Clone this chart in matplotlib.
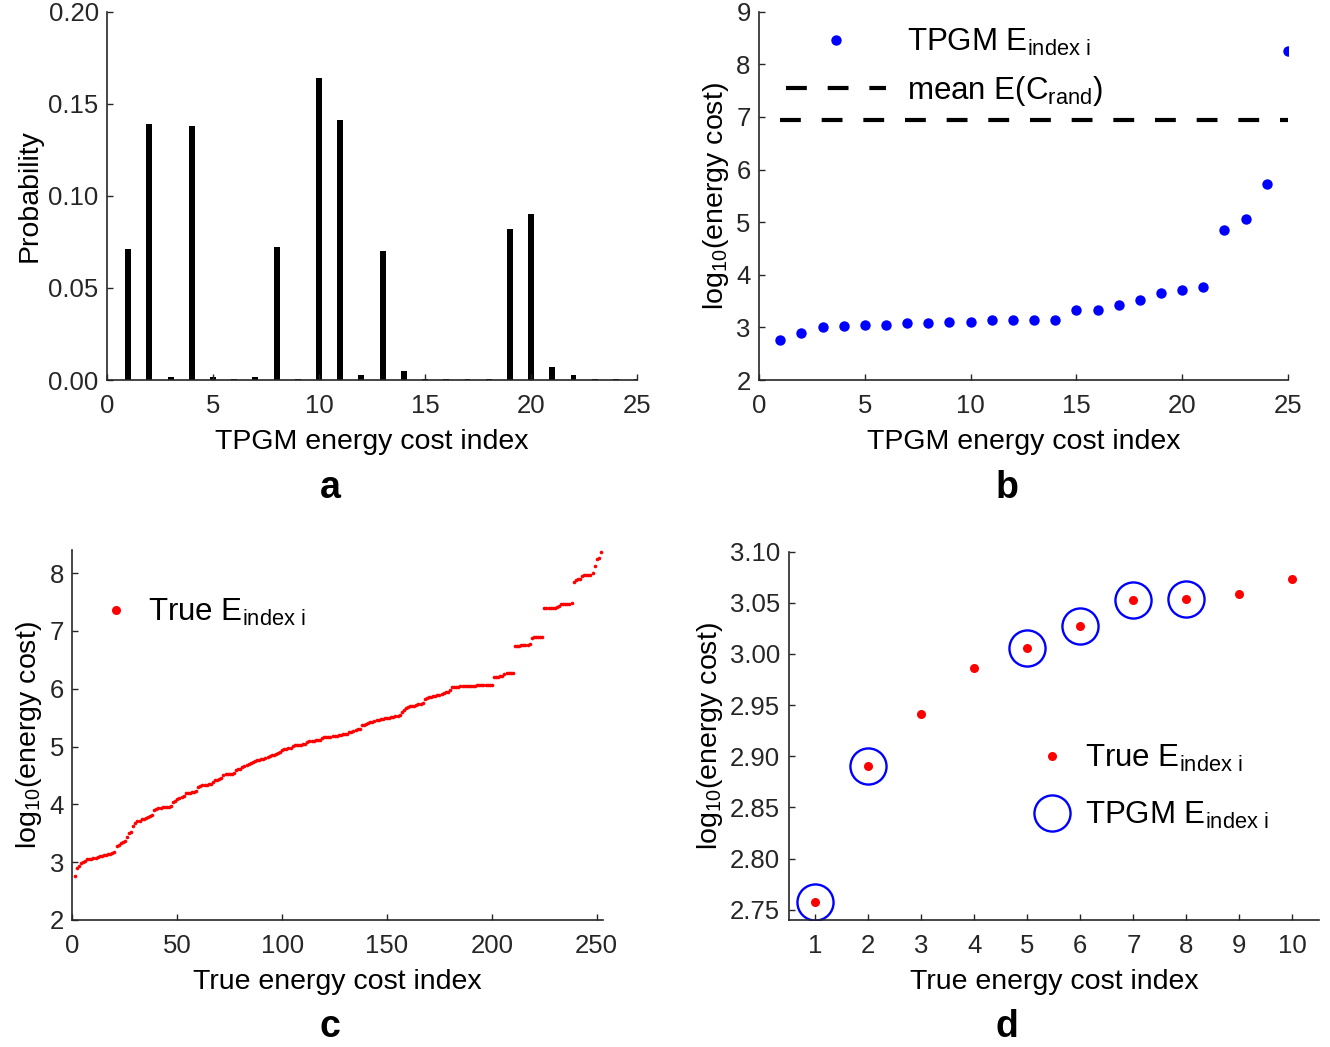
import numpy as np
import matplotlib.pyplot as plt
from matplotlib.lines import Line2D

plt.rcParams['font.family'] = ['Liberation Sans', 'DejaVu Sans']
plt.rcParams['mathtext.fontset'] = 'custom'
plt.rcParams['mathtext.rm'] = 'Liberation Sans'
plt.rcParams['mathtext.it'] = 'Liberation Sans:italic'

# panel a: probability of each TPGM energy cost index
tpgm_idx = np.arange(1, 26)
prob = [0.071, 0.139, 0.0018, 0.138, 0.0018, 0.0007, 0.0018, 0.072, 0.0007, 0.164,
        0.141, 0.0027, 0.070, 0.0049, 0.0005, 0.0007, 0.0007, 0.0007, 0.082, 0.090,
        0.0069, 0.0027, 0.0007, 0.0007, 0.0004]

# panel b: TPGM log10 energy cost
tpgm_cost = [2.758, 2.891, 3.006, 3.027, 3.053, 3.054, 3.08, 3.09, 3.10, 3.11,
             3.14, 3.15, 3.15, 3.15, 3.33, 3.34, 3.42, 3.53, 3.65, 3.72,
             3.77, 4.86, 5.06, 5.73, 8.26]
mean_rand = 6.94

# panel c: true log10 energy cost, sorted
true_cost = [
    2.758, 2.891, 2.941, 2.986, 3.006, 3.027, 3.053, 3.054, 3.059, 3.073,
    3.08, 3.09, 3.10, 3.11, 3.12, 3.13, 3.14, 3.15, 3.16, 3.17,
    3.28, 3.29, 3.34, 3.35, 3.36, 3.43, 3.51, 3.53, 3.62, 3.67,
    3.71, 3.72, 3.74, 3.75, 3.76, 3.79, 3.80, 3.81, 3.90, 3.92,
    3.94, 3.94, 3.95, 3.95, 3.95, 3.96, 3.98, 4.04, 4.06, 4.10,
    4.11, 4.12, 4.15, 4.19, 4.20, 4.20, 4.21, 4.22, 4.23, 4.30,
    4.32, 4.33, 4.33, 4.34, 4.35, 4.36, 4.38, 4.42, 4.43, 4.44,
    4.45, 4.51, 4.52, 4.52, 4.52, 4.53, 4.55, 4.59, 4.61, 4.62,
    4.64, 4.66, 4.68, 4.70, 4.72, 4.73, 4.75, 4.76, 4.77, 4.78,
    4.79, 4.80, 4.82, 4.84, 4.85, 4.86, 4.87, 4.88, 4.90, 4.94,
    4.95, 4.96, 4.97, 4.98, 5.01, 5.02, 5.02, 5.03, 5.03, 5.04,
    5.05, 5.08, 5.09, 5.09, 5.10, 5.11, 5.11, 5.12, 5.14, 5.16,
    5.16, 5.17, 5.17, 5.18, 5.19, 5.19, 5.20, 5.20, 5.21, 5.21,
    5.22, 5.25, 5.26, 5.27, 5.28, 5.30, 5.31, 5.37, 5.38, 5.39,
    5.40, 5.42, 5.43, 5.45, 5.46, 5.46, 5.47, 5.48, 5.49, 5.49,
    5.50, 5.51, 5.51, 5.52, 5.53, 5.54, 5.60, 5.64, 5.67, 5.69,
    5.70, 5.71, 5.71, 5.72, 5.73, 5.74, 5.76, 5.83, 5.84, 5.85,
    5.86, 5.87, 5.88, 5.89, 5.90, 5.91, 5.93, 5.94, 5.95, 5.97,
    6.03, 6.03, 6.03, 6.03, 6.04, 6.04, 6.04, 6.04, 6.05, 6.05,
    6.05, 6.05, 6.06, 6.06, 6.06, 6.06, 6.07, 6.07, 6.07, 6.07,
    6.21, 6.21, 6.21, 6.22, 6.22, 6.26, 6.27, 6.27, 6.27, 6.27,
    6.74, 6.74, 6.74, 6.75, 6.75, 6.75, 6.76, 6.78, 6.88, 6.89,
    6.89, 6.89, 6.89, 6.90, 7.39, 7.39, 7.39, 7.40, 7.40, 7.40,
    7.41, 7.43, 7.46, 7.47, 7.47, 7.47, 7.47, 7.48, 7.84, 7.88,
    7.89, 7.89, 7.95, 7.96, 7.96, 7.96, 7.96, 8.00, 8.13, 8.24,
    8.26, 8.36]

# panel d: first ten true costs and which of them TPGM found
d_idx = np.arange(1, 11)
d_found = [1, 2, 5, 6, 7, 8]

axis_col = '#262626'
tick_fs = 18.5
label_fs = 20.5
leg_fs = 22.5


def style(ax):
    for s in ['top', 'right']:
        ax.spines[s].set_visible(False)
    for s in ['left', 'bottom']:
        ax.spines[s].set_color(axis_col)
        ax.spines[s].set_linewidth(1.2)
    ax.tick_params(direction='in', length=4.5, width=1.0, colors=axis_col,
                   labelsize=tick_fs, labelcolor=axis_col, pad=6)
    ax.tick_params(axis='x', pad=10)
    ax.xaxis.labelpad = 8


fig = plt.figure(figsize=(13.3, 10.47), dpi=100)
ax_a = fig.add_axes([0.0805, 0.637, 0.3985, 0.3518])
ax_b = fig.add_axes([0.5707, 0.637, 0.3977, 0.3518])
ax_c = fig.add_axes([0.0545, 0.1213, 0.3989, 0.3534])
ax_d = fig.add_axes([0.593, 0.1213, 0.3987, 0.3518])

# a
ax_a.bar(tpgm_idx, prob, width=0.28, color='black')
ax_a.set_xlim(0, 25)
ax_a.set_ylim(0, 0.2)
ax_a.set_xticks(np.arange(0, 26, 5))
ax_a.set_yticks(np.arange(0, 0.21, 0.05))
ax_a.set_yticklabels(['%.2f' % v for v in np.arange(0, 0.21, 0.05)])
ax_a.set_xlabel('TPGM energy cost index', fontsize=label_fs)
ax_a.set_ylabel('Probability', fontsize=label_fs)
style(ax_a)

# b
ax_b.plot(tpgm_idx, tpgm_cost, 'o', color='blue', ms=7.5, mec='none',
          label=r'TPGM E$_{\mathrm{index\ i}}$')
ax_b.plot([1, 25], [mean_rand, mean_rand], color='black', lw=3,
          dashes=(5, 5), label=r'mean E(C$_{\mathrm{rand}}$)')
ax_b.set_xlim(0, 25)
ax_b.set_ylim(2, 9)
ax_b.set_xticks(np.arange(0, 26, 5))
ax_b.set_yticks(np.arange(2, 10))
ax_b.set_xlabel('TPGM energy cost index', fontsize=label_fs)
ax_b.set_ylabel(r'log$_{10}$(energy cost)', fontsize=label_fs)
ax_b.legend(loc='upper left', bbox_to_anchor=(0.021, 1.0), frameon=False,
            fontsize=leg_fs, handlelength=3.2, handletextpad=0.67,
            labelspacing=0.5, borderpad=0)
style(ax_b)

# c
ax_c.plot(np.arange(1, len(true_cost) + 1), true_cost, 'o', color='red',
          ms=2.6, mec='none', label=r'True E$_{\mathrm{index\ i}}$')
ax_c.set_xlim(0, 253)
ax_c.set_ylim(2, 8.4)
ax_c.set_xticks(np.arange(0, 251, 50))
ax_c.set_yticks(np.arange(2, 9))
ax_c.set_xlabel('True energy cost index', fontsize=label_fs)
ax_c.set_ylabel(r'log$_{10}$(energy cost)', fontsize=label_fs)
h_c = Line2D([], [], ls='none', marker='o', color='red', ms=6.5, mec='none')
ax_c.legend([h_c], [r'True E$_{\mathrm{index\ i}}$'], loc='upper left',
            bbox_to_anchor=(0.038, 0.873), frameon=False, fontsize=leg_fs,
            handlelength=1.5, handletextpad=0.28, borderpad=0, borderaxespad=0)
style(ax_c)

# d
d_vals = true_cost[:10]
ax_d.plot(d_idx, d_vals, 'o', color='red', ms=6.5, mec='none')
ax_d.plot(d_found, [d_vals[i - 1] for i in d_found], 'o', mfc='none',
          mec='blue', mew=1.7, ms=26)
ax_d.set_xlim(0.5, 10.5)
ax_d.set_ylim(2.74, 3.10)
ax_d.set_xticks(d_idx)
ax_d.set_yticks(np.arange(2.75, 3.101, 0.05))
ax_d.set_yticklabels(['%.2f' % v for v in np.arange(2.75, 3.101, 0.05)])
ax_d.set_xlabel('True energy cost index', fontsize=label_fs)
ax_d.set_ylabel(r'log$_{10}$(energy cost)', fontsize=label_fs)
h_true = Line2D([], [], ls='none', marker='o', color='red', ms=6.5, mec='none')
h_tpgm = Line2D([], [], ls='none', marker='o', mfc='none', mec='blue', mew=1.7, ms=26)
ax_d.legend([h_true, h_tpgm],
            [r'True E$_{\mathrm{index\ i}}$', r'TPGM E$_{\mathrm{index\ i}}$'],
            loc='upper left', bbox_to_anchor=(0.452, 0.48), frameon=False,
            fontsize=leg_fs, handlelength=1.5, handletextpad=0.31,
            labelspacing=0.82, borderpad=0, borderaxespad=0)
style(ax_d)

for x, y, s in [(330, 488, 'a'), (1007, 488, 'b'), (330, 1027, 'c'), (1007, 1027, 'd')]:
    fig.text(x / 1330, 1 - y / 1047, s, fontsize=27, fontweight='bold',
             ha='center', va='center')

fig.savefig('out.png', dpi=100)
